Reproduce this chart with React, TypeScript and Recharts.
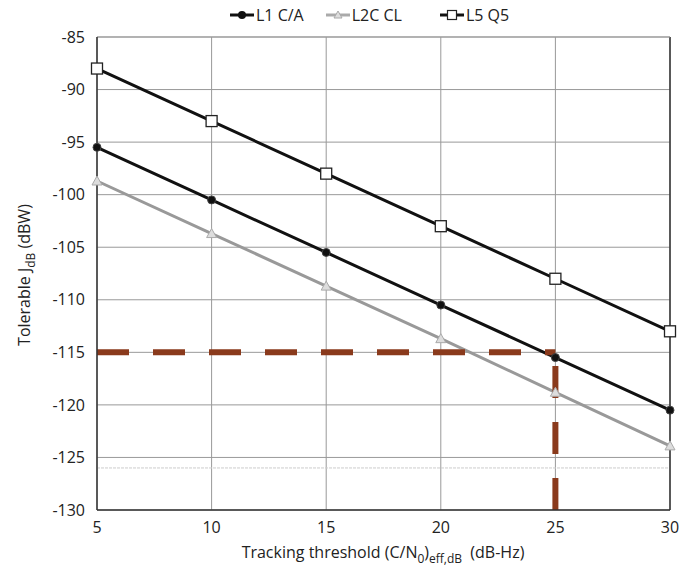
import { LineChart, Line, XAxis, YAxis, CartesianGrid, ReferenceLine } from "recharts";

const thresholds = [5, 10, 15, 20, 25, 30];
const l1ca = [-95.5, -100.5, -105.5, -110.5, -115.5, -120.5];
const l2ccl = [-98.7, -103.7, -108.7, -113.7, -118.8, -123.9];
const l5q5 = [-88, -93, -98, -103, -108, -113];
const yTicks = [-85, -90, -95, -100, -105, -110, -115, -120, -125, -130];
const xTicks = [5, 10, 15, 20, 25, 30];

const data = thresholds.map((x, i) => ({
  x,
  l1: l1ca[i],
  l2: l2ccl[i],
  l5: l5q5[i],
}));

const FONT = "'Open Sans', 'Noto Sans', sans-serif";
const RED = "#8a3a1c";

const CircleDot = (props: any) => {
  const { cx, cy } = props;
  if (cx == null || cy == null) return null;
  return <circle cx={cx} cy={cy} r={4} fill="#111" stroke="#444" strokeWidth={1} />;
};

const TriDot = (props: any) => {
  const { cx, cy } = props;
  if (cx == null || cy == null) return null;
  const s = 5;
  return (
    <path
      d={`M${cx},${cy - s} L${cx + s},${cy + s * 0.8} L${cx - s},${cy + s * 0.8} Z`}
      fill="#ddd"
      stroke="#aaa"
      strokeWidth={1}
    />
  );
};

const SquareDot = (props: any) => {
  const { cx, cy } = props;
  if (cx == null || cy == null) return null;
  return <rect x={cx - 5.5} y={cy - 5.5} width={11} height={11} fill="#fff" stroke="#222" strokeWidth={1.3} />;
};

function LegendItem({ color, label, marker }: { color: string; label: string; marker: string }) {
  return (
    <div style={{ display: "flex", alignItems: "center", gap: 2 }}>
      <svg width={24} height={14}>
        <line x1={0} y1={7} x2={24} y2={7} stroke={color} strokeWidth={3} />
        {marker === "circle" && <circle cx={12} cy={7} r={4} fill="#111" />}
        {marker === "tri" && <path d="M12,3 L16,10 L8,10 Z" fill="#ddd" stroke="#aaa" />}
        {marker === "square" && <rect x={7.5} y={2.5} width={9} height={9} fill="#fff" stroke="#222" strokeWidth={1.2} />}
      </svg>
      <span>{label}</span>
    </div>
  );
}

export default function App() {
  return (
    <div style={{ position: "absolute", left: 0, top: 0, width: 685, height: 573, background: "#fff" }}>
      <LineChart
        width={685}
        height={573}
        data={data}
        margin={{ top: 37, right: 15, bottom: 33, left: 37 }}
      >
        <CartesianGrid stroke="#999" strokeWidth={1} />
        <XAxis
          dataKey="x"
          type="number"
          domain={[5, 30]}
          ticks={xTicks}
          height={30}
          axisLine={{ stroke: "#333", strokeWidth: 1.5 }}
          tickLine={false}
          tick={{ fill: "#222", fontSize: 16, fontFamily: FONT }}
          tickMargin={6}
        />
        <YAxis
          type="number"
          domain={[-130, -85]}
          ticks={yTicks}
          width={60}
          axisLine={{ stroke: "#333", strokeWidth: 1.5 }}
          tickLine={false}
          tick={{ fill: "#222", fontSize: 16, fontFamily: FONT }}
          tickMargin={6}
        />
        <ReferenceLine y={-126} stroke="#ccc" strokeWidth={1} strokeDasharray="3 1" />
        <ReferenceLine x={30} stroke="#333" strokeWidth={1.5} />
        <ReferenceLine y={-85} stroke="#999" strokeWidth={1} />
        <Line dataKey="l2" stroke="#999" strokeWidth={3} dot={<TriDot />} isAnimationActive={false} />
        <Line dataKey="l1" stroke="#111" strokeWidth={3} dot={<CircleDot />} isAnimationActive={false} />
        <Line dataKey="l5" stroke="#111" strokeWidth={3} dot={<SquareDot />} isAnimationActive={false} />
        <ReferenceLine
          segment={[{ x: 5, y: -115 }, { x: 25, y: -115 }]}
          stroke={RED}
          strokeWidth={6}
          strokeDasharray="32 24"
        />
        <ReferenceLine
          segment={[{ x: 25, y: -130 }, { x: 25, y: -115 }]}
          stroke={RED}
          strokeWidth={6}
          strokeDasharray="32 24"
        />
        <text x={383} y={558} textAnchor="middle" fontSize={16} fill="#222" fontFamily={FONT}>
          Tracking threshold (C/N
          <tspan fontSize={12} dy={5}>0</tspan>
          <tspan dy={-5}>)</tspan>
          <tspan fontSize={12} dy={5}>eff,dB</tspan>
          <tspan dy={-5}>{"\u00a0\u00a0(dB-Hz)"}</tspan>
        </text>
        <text
          transform="translate(30,275) rotate(-90)"
          textAnchor="middle"
          fontSize={16}
          fill="#222"
          fontFamily={FONT}
        >
          Tolerable J
          <tspan fontSize={12} dy={5}>dB</tspan>
          <tspan dy={-5}>{"\u00a0(dBW)"}</tspan>
        </text>
      </LineChart>
      <div
        style={{
          position: "absolute",
          top: 4,
          left: 230,
          display: "flex",
          gap: 22,
          fontFamily: FONT,
          fontSize: 16,
          color: "#222",
        }}
      >
        <LegendItem color="#111" label="L1 C/A" marker="circle" />
        <LegendItem color="#aaa" label="L2C CL" marker="tri" />
        <div style={{ marginLeft: 16 }}>
          <LegendItem color="#111" label="L5 Q5" marker="square" />
        </div>
      </div>
    </div>
  );
}
